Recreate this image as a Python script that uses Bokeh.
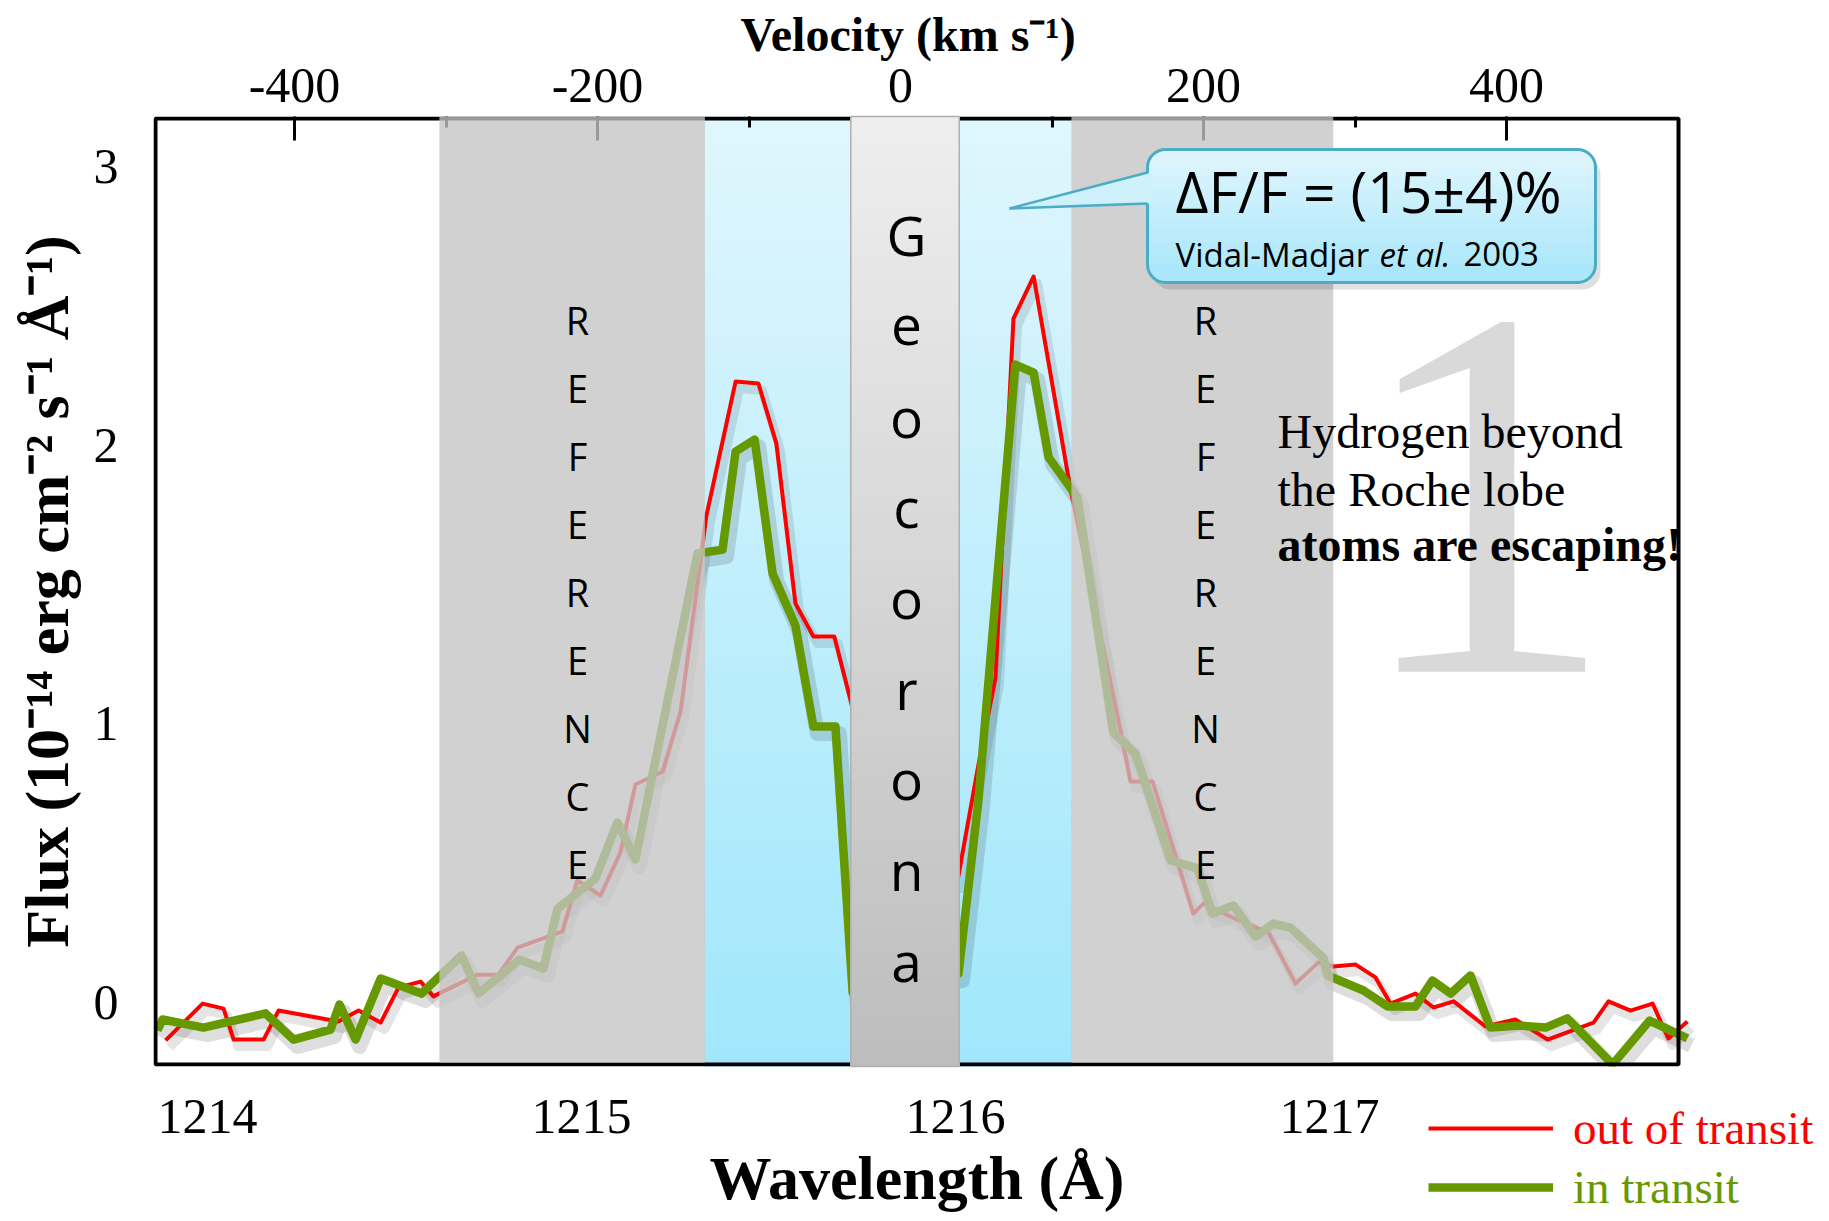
import numpy as np
from bokeh.plotting import figure
from bokeh.layouts import column
from bokeh.models import (Range1d, LinearAxis, FixedTicker, Label, BoxAnnotation,
                          PolyAnnotation, Arrow, Legend, LegendItem, Title)
from bokeh.embed import file_html
from bokeh.resources import INLINE

# ---------------- data ----------------
wl_out = [1213.888, 1213.987, 1214.043, 1214.070, 1214.150, 1214.190, 1214.350, 1214.404,
          1214.463, 1214.511, 1214.570, 1214.604, 1214.722, 1214.778, 1214.829, 1214.949,
          1214.989, 1215.051, 1215.104, 1215.144, 1215.217, 1215.265, 1215.334, 1215.412,
          1215.473, 1215.521, 1215.572, 1215.620, 1215.676, 1215.725, 1216.005, 1216.059,
          1216.107, 1216.155, 1216.209, 1216.305, 1216.441, 1216.468, 1216.527, 1216.636,
          1216.663, 1216.741, 1216.837, 1216.909, 1216.971, 1217.011, 1217.070, 1217.123,
          1217.163, 1217.230, 1217.278, 1217.332, 1217.417, 1217.497, 1217.583, 1217.706,
          1217.746, 1217.805, 1217.864, 1217.906, 1217.957]
flux_out = [-0.136, -0.004, -0.022, -0.133, -0.133, -0.029, -0.068, -0.029,
            -0.072, 0.054, 0.075, 0.022, 0.100, 0.100, 0.197, 0.255,
            0.438, 0.384, 0.538, 0.782, 0.829, 1.044, 1.747, 2.228,
            2.221, 2.006, 1.432, 1.313, 1.313, 1.055, 0.434, 0.836,
            1.166, 2.454, 2.605, 1.860, 0.976, 0.793, 0.793, 0.319,
            0.355, 0.305, 0.251, 0.068, 0.144, 0.129, 0.136, 0.090,
            -0.004, 0.032, -0.018, 0.004, -0.086, -0.061, -0.133, -0.072,
            0.004, -0.029, -0.004, -0.129, -0.068]

wl_in = [1213.866, 1213.880, 1213.989, 1214.155, 1214.230, 1214.329, 1214.353, 1214.396,
         1214.463, 1214.572, 1214.679, 1214.725, 1214.834, 1214.898, 1214.936, 1215.037,
         1215.096, 1215.144, 1215.310, 1215.377, 1215.412, 1215.463, 1215.511, 1215.572,
         1215.620, 1215.679, 1215.725, 1216.008, 1216.061, 1216.160, 1216.209, 1216.249,
         1216.326, 1216.422, 1216.481, 1216.575, 1216.647, 1216.687, 1216.743, 1216.802,
         1216.850, 1216.896, 1216.984, 1216.995, 1217.091, 1217.155, 1217.230, 1217.275,
         1217.324, 1217.377, 1217.430, 1217.511, 1217.578, 1217.636, 1217.757, 1217.856,
         1217.957]
flux_in = [-0.100, -0.061, -0.090, -0.039, -0.133, -0.097, -0.007, -0.133,
           0.086, 0.032, 0.169, 0.032, 0.154, 0.122, 0.337, 0.445,
           0.646, 0.513, 1.611, 1.625, 1.977, 2.020, 1.539, 1.353,
           0.990, 0.990, 0.036, 0.104, 0.721, 2.289, 2.260, 1.956,
           1.812, 0.969, 0.893, 0.510, 0.481, 0.319, 0.348, 0.237,
           0.283, 0.269, 0.158, 0.097, 0.043, -0.014, -0.014, 0.079,
           0.032, 0.097, -0.090, -0.083, -0.090, -0.057, -0.222, -0.065,
           -0.129]

wl_ticks = [1214, 1215, 1216, 1217]
flux_ticks = [0, 1, 2, 3]
vel_major = [-400, -200, 0, 200, 400]
vel_minor = [-300, -100, 100, 300]

ref_left = [1214.62, 1216.31]
ref_right = [1215.33, 1217.01]
blue_left = [1215.33, 1216.01]
blue_right = [1215.72, 1216.31]
geo_left, geo_right = 1215.72, 1216.01

legend_labels = ["out of transit", "in transit"]

# ---------------- geometry helpers (annotation placement) ----------------
W, H = 1825, 1219
PX_PER_A = 374.0
PX_PER_F = 278.7
FL, FT, FR, FB = 153, 116, 1680, 1066          # visible plot box in canvas px
X0 = 1214 + (FL - 207) / PX_PER_A
X1 = 1214 + (W - 207) / PX_PER_A                # bokeh frame runs to the canvas edge
Y0 = (1002 - FB) / PX_PER_F
Y1 = (1002 - FT) / PX_PER_F
V0 = (FL - 900) / 1.515
V1 = (W - 900) / 1.515


def X(px):
    return 1214 + (px - 207) / PX_PER_A


def Y(py):
    return (1002 - py) / PX_PER_F


def hexlerp(c0, c1, t):
    a = [int(c0[i:i + 2], 16) for i in (1, 3, 5)]
    b = [int(c1[i:i + 2], 16) for i in (1, 3, 5)]
    return "#%02x%02x%02x" % tuple(int(round(a[k] + (b[k] - a[k]) * t)) for k in range(3))


p = figure(width=W, height=H, output_backend="svg", toolbar_location=None,
           x_range=Range1d(X0, X1), y_range=Range1d(Y0, Y1),
           min_border_left=FL, min_border_right=0, min_border_top=FT,
           min_border_bottom=H - FB)
p.background_fill_color = None
p.border_fill_color = None
p.grid.visible = False
p.outline_line_color = None

SERIF = "Liberation Serif"
SANS = "Open Sans"

# bottom axis (tick labels) + its title
xa = p.xaxis[0]
xa.ticker = FixedTicker(ticks=wl_ticks)
xa.major_tick_in = 0
xa.major_tick_out = 0
xa.minor_tick_in = 0
xa.minor_tick_out = 0
xa.axis_line_color = None
xa.major_label_standoff = 33
xa.major_label_text_font = SERIF
xa.major_label_text_font_size = "50px"
xa.major_label_text_color = "black"
p.add_layout(Title(text="Wavelength (Å)", align="left", offset=709 - FL,
                   standoff=12, text_font=SERIF, text_font_style="bold",
                   text_font_size="62px", text_color="black"), "below")

# left axis
ya = p.yaxis[0]
ya.ticker = FixedTicker(ticks=flux_ticks)
ya.major_tick_in = 0
ya.major_tick_out = 0
ya.minor_tick_in = 0
ya.minor_tick_out = 0
ya.axis_line_color = None
ya.major_label_standoff = 35
ya.major_label_text_font = SERIF
ya.major_label_text_font_size = "50px"
ya.major_label_text_color = "black"
ya.axis_label = "Flux (10⁻¹⁴ erg cm⁻² s⁻¹ Å⁻¹)"
ya.axis_label_standoff = 10
ya.axis_label_text_font = SERIF
ya.axis_label_text_font_style = "bold"
ya.axis_label_text_font_size = "62px"
ya.axis_label_text_color = "black"

# top velocity axis + its title
p.extra_x_ranges = {"vel": Range1d(V0, V1)}
top = LinearAxis(x_range_name="vel",
                 ticker=FixedTicker(ticks=vel_major, minor_ticks=vel_minor))
top.major_label_overrides = {float(v): str(v) for v in vel_major}
top.major_tick_in = 24
top.major_tick_out = 0
top.minor_tick_in = 11
top.minor_tick_out = 0
top.major_tick_line_width = 3
top.minor_tick_line_width = 3
top.major_tick_line_color = "black"
top.minor_tick_line_color = "black"
top.axis_line_color = None
top.major_label_standoff = 15
top.major_label_text_font = SERIF
top.major_label_text_font_size = "50px"
top.major_label_text_color = "black"
p.add_layout(top, "above")
p.add_layout(Title(text="Velocity (km s⁻¹)", align="left", offset=740 - FL,
                   standoff=10, text_font=SERIF, text_font_style="bold",
                   text_font_size="48px", text_color="black"), "above")

# visible plot box (drawn under the translucent bands)
p.add_layout(BoxAnnotation(left=X(FL + 2), right=X(FR - 2), top=Y(FT + 2), bottom=Y(FB - 2),
                           fill_color=None, line_color="black", line_alpha=1.0,
                           line_width=4, level="guide"))

# ---------------- blue gradient bands (under the lines) ----------------
N = 60
edges = np.linspace(Y0, Y1, N + 1)
blue_cols = [hexlerp("#a0e7fb", "#e0f6fd", (i + 0.5) / N) for i in range(N)]
for l, r in zip(blue_left, blue_right):
    p.quad(left=l, right=r, bottom=edges[:-1], top=edges[1:],
           fill_color=blue_cols, line_color=blue_cols, line_width=1, level="underlay")


def txt(xpx, base_px, text, font, size, k, color="black", style="normal",
        align="left", level="annotation"):
    """Place text so that its baseline lands at base_px (canvas px)."""
    p.add_layout(Label(x=X(xpx), y=Y(base_px - k * size), text=text, text_font=font,
                       text_font_size=f"{size}px", text_color=color,
                       text_font_style=style, text_align=align,
                       text_baseline="alphabetic", level=level))


# big watermark "1"
txt(1484, 676, "1", SERIF, 530, 0.337, color="#d9d9d9", align="center", level="underlay")

# ---------------- shadows + spectra ----------------
sdx = 4 / PX_PER_A
sdy = 7 / PX_PER_F
p.line(np.array(wl_out) + sdx, np.array(flux_out) - sdy, line_color="black",
       line_alpha=0.10, line_width=9, line_join="round")
p.line(np.array(wl_in) + sdx, np.array(flux_in) - sdy, line_color="black",
       line_alpha=0.13, line_width=15, line_join="round")

r_out = p.line(wl_out, flux_out, line_color="#ff0000", line_width=4, line_join="round")
r_in = p.line(wl_in, flux_in, line_color="#669900", line_width=8.5, line_join="round")

# ---------------- reference bands (translucent, over lines & ticks) ----------------
p.quad(left=ref_left, right=ref_right, bottom=Y(FB - 4), top=Y1,
       fill_color="#c4c4c4", fill_alpha=0.78, line_color=None, level="annotation")

# geocorona band (opaque gradient)
geo_cols = [hexlerp("#bdbdbd", "#eeeeee", (i + 0.5) / N) for i in range(N)]
p.quad(left=geo_left, right=geo_right, bottom=edges[:-1], top=edges[1:],
       fill_color=geo_cols, line_color=geo_cols, line_width=1, level="annotation")
p.quad(left=geo_left, right=geo_right, bottom=Y0, top=Y1, fill_color=None,
       line_color="#b0b0b0", line_width=1.5, level="annotation")

# ---------------- vertical letters ----------------
for i, ch in enumerate("REFERENCE"):
    for xc in (577, 1205):
        txt(xc, 335 + 68 * i, ch, SANS, 38, 0.41, align="center")
for i, ch in enumerate("Geocorona"):
    txt(906, 255 + 90.7 * i, ch, SANS, 55, 0.38, align="center")

# ---------------- side text ----------------
for line_txt, yy, st in [("Hydrogen beyond", 450, "normal"), ("the Roche lobe", 508, "normal"),
                         ("atoms are escaping!", 563, "bold")]:
    txt(1277, yy, line_txt, SERIF, 48, 0.40, style=st)

# ---------------- callout (rounded box with vertical gradient) ----------------
BL, BR, BT, BBt, RAD = 1147, 1595, 149, 282, 18
p.add_layout(BoxAnnotation(left=X(BL + 5), right=X(BR + 5), top=Y(BT + 7), bottom=Y(BBt + 7),
                           fill_color="black", fill_alpha=0.12, line_color=None,
                           border_radius=RAD))
TOPC, BOTC = "#e0f6fd", "#a6e6fa"
cuts = [BT, BT + RAD] + list(np.linspace(BT + RAD, BBt - RAD, 14)[1:-1]) + [BBt - RAD, BBt]
for j in range(len(cuts) - 1):
    y_a, y_b = cuts[j], cuts[j + 1]
    col = hexlerp(TOPC, BOTC, ((y_a + y_b) / 2 - BT) / (BBt - BT))
    if j == 0:
        rad = (RAD, RAD, 0, 0)
    elif j == len(cuts) - 2:
        rad = (0, 0, RAD, RAD)
    else:
        rad = 0
    p.add_layout(BoxAnnotation(left=X(BL), right=X(BR), top=Y(y_a), bottom=Y(y_b + 0.6),
                               fill_color=col, fill_alpha=1.0, line_color=None,
                               border_radius=rad))
p.add_layout(BoxAnnotation(left=X(BL), right=X(BR), top=Y(BT), bottom=Y(BBt),
                           fill_color=None, line_color="#4bacc6", line_alpha=1.0,
                           line_width=3, border_radius=RAD))
p.add_layout(PolyAnnotation(xs=[X(1151), X(1009), X(1151)], ys=[Y(172), Y(208), Y(203)],
                            fill_color=hexlerp(TOPC, BOTC, 0.3), fill_alpha=1.0,
                            line_color=None))
for (xa_, ya_), (xb_, yb_) in [((1147, 172), (1009, 208)), ((1009, 208), (1147, 203))]:
    p.add_layout(Arrow(start=None, end=None, x_start=X(xa_), y_start=Y(ya_),
                       x_end=X(xb_), y_end=Y(yb_), line_color="#4bacc6", line_width=2.5))
txt(1175, 213, "ΔF/F = (15±4)%", SANS, 57, 0.40)
txt(1175, 267, "Vidal-Madjar", SANS, 33, 0.40)
txt(1379, 267, "et al.", SANS, 33, 0.40, style="italic")
txt(1463, 267, "2003", SANS, 33, 0.40)

# ---------------- legend: transparent full-width strip overlapping the bottom ----------------
LY, LB = 1101, 1214
lf = figure(width=W, height=LB - LY, output_backend="svg", toolbar_location=None,
            x_range=Range1d(0, 1), y_range=Range1d(0, 1),
            x_axis_location=None, y_axis_location=None, min_border=0)
lf.outline_line_color = None
lf.background_fill_color = None
lf.border_fill_color = None
lf.grid.visible = False
# legend proxies carry the same series (they fall outside this strip's own ranges)
d_out = lf.line(wl_out, flux_out, line_color="#ff0000", line_width=4)
d_in = lf.line(wl_in, flux_in, line_color="#669900", line_width=8.5)
for rend, lab, col, loc in [(d_out, legend_labels[0], "#ff0000", "top_right"),
                            (d_in, legend_labels[1], "#669900", "bottom_right")]:
    lg = Legend(items=[LegendItem(label=lab, renderers=[rend])], location=loc,
                orientation="vertical", padding=0, margin=0, spacing=0,
                border_line_color=None, background_fill_alpha=0,
                glyph_width=125, glyph_height=52, label_height=52, label_width=252,
                label_standoff=20,
                label_text_font=SERIF, label_text_font_size="47px",
                label_text_color=col, label_text_baseline="middle")
    lf.add_layout(lg)
lf.margin = (-(H - LY), 0, 0, 0)

layout = column(p, lf, spacing=0)
open("out.html", "w").write(file_html(layout, INLINE))
